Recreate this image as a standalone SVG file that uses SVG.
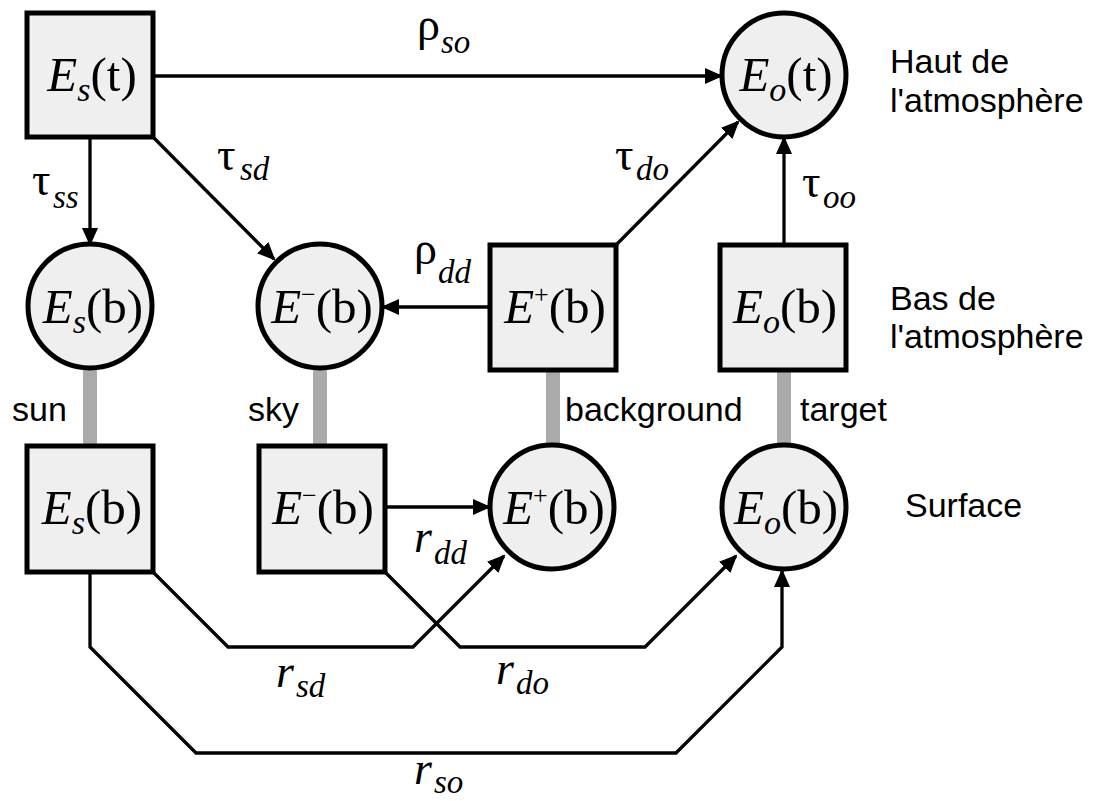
<svg xmlns="http://www.w3.org/2000/svg" width="1101" height="801" viewBox="0 0 1101 801">
<style>
.node{fill:#efefef;stroke:#000;stroke-width:5}
.t{font-family:"Liberation Serif","Times New Roman",serif;font-size:49px;fill:#000}
.it{font-style:italic}
.sb{font-size:34px;font-style:italic}
.sp{font-size:26px}
.g{font-family:"Liberation Serif","Times New Roman",serif;font-size:46px;fill:#000}
.gs{font-family:"Liberation Serif","Times New Roman",serif;font-size:33px;font-style:italic;fill:#000}
.r{font-family:"Liberation Serif","Times New Roman",serif;font-size:46px;font-style:italic;fill:#000}
.sans{font-family:"Liberation Sans",Arial,sans-serif;font-size:34px;fill:#000}
.arr{stroke:#000;stroke-width:3.3;fill:none;marker-end:url(#ah)}
.link{stroke:#aaa;stroke-width:14}
</style>
<defs>
<marker id="ah" viewBox="0 0 18 16" refX="16" refY="8" markerWidth="18" markerHeight="16" markerUnits="userSpaceOnUse" orient="auto">
<path d="M0,0 L18,8 L0,16 z" fill="#000"/>
</marker>
</defs>
<rect width="1101" height="801" fill="#fff"/>

<g id="links">
<line class="link" x1="90" y1="368" x2="90" y2="446"/>
<line class="link" x1="320" y1="368" x2="320" y2="446"/>
<line class="link" x1="553" y1="370" x2="553" y2="446"/>
<line class="link" x1="784" y1="370" x2="784" y2="446"/>
</g>

<g id="connectors">
<line class="arr" x1="153" y1="76" x2="721" y2="76"/>
<line class="arr" x1="90" y1="137" x2="90" y2="244"/>
<line class="arr" x1="153" y1="137" x2="274" y2="259"/>
<line class="arr" x1="616" y1="245" x2="738" y2="122"/>
<line class="arr" x1="784" y1="245" x2="784" y2="138"/>
<line class="arr" x1="490" y1="307" x2="383" y2="307"/>
<line class="arr" x1="385" y1="507" x2="489" y2="507"/>
<path class="arr" d="M153,572 L228,647 L413,647 L504,556"/>
<path class="arr" d="M385,572 L460,647 L645,647 L736,556"/>
<path class="arr" d="M90,572 L90,647 L196,753 L676,753 L782,647 L782,571"/>
</g>

<g id="connector-labels">
<text class="g" x="417" y="40">ρ<tspan class="gs" x="441" y="53">so</tspan></text>
<text class="g" x="32" y="195">τ<tspan class="gs" x="53" y="208">ss</tspan></text>
<text class="g" x="217" y="170">τ<tspan class="gs" x="240" y="180">sd</tspan></text>
<text class="g" x="615" y="170">τ<tspan class="gs" x="636" y="180">do</tspan></text>
<text class="g" x="802" y="197">τ<tspan class="gs" x="823" y="208">oo</tspan></text>
<text class="g" x="414" y="264">ρ<tspan class="gs" x="438" y="283">dd</tspan></text>
<text class="r" x="414" y="552">r<tspan class="gs" x="434" y="564">dd</tspan></text>
<text class="r" x="276" y="687">r<tspan class="gs" x="296" y="697">sd</tspan></text>
<text class="r" x="496" y="684">r<tspan class="gs" x="516" y="694">do</tspan></text>
<text class="r" x="414" y="784">r<tspan class="gs" x="434" y="793">so</tspan></text>
</g>

<g id="n-Es-t">
<rect class="node" x="27" y="13" width="126" height="124"/>
<text class="t" x="92" y="91" text-anchor="middle"><tspan class="it">E</tspan><tspan class="sb" dy="10">s</tspan><tspan dy="-10">(t)</tspan></text>
</g>
<g id="n-Eo-t">
<circle class="node" cx="784" cy="75" r="62"/>
<text class="t" x="786" y="91" text-anchor="middle"><tspan class="it">E</tspan><tspan class="sb" dy="10">o</tspan><tspan dy="-10">(t)</tspan></text>
</g>
<g id="n-Es-b-atm">
<circle class="node" cx="90" cy="306" r="62"/>
<text class="t" x="93" y="323" text-anchor="middle"><tspan class="it">E</tspan><tspan class="sb" dy="10">s</tspan><tspan dy="-10">(b)</tspan></text>
</g>
<g id="n-Em-b-atm">
<circle class="node" cx="320" cy="306" r="62"/>
<text class="t" x="322" y="323" text-anchor="middle"><tspan class="it">E</tspan><tspan class="sp" dy="-20">−</tspan><tspan dy="20">(b)</tspan></text>
</g>
<g id="n-Ep-b-atm">
<rect class="node" x="490" y="245" width="126" height="125"/>
<text class="t" x="555" y="323" text-anchor="middle"><tspan class="it">E</tspan><tspan class="sp" dy="-20">+</tspan><tspan dy="20">(b)</tspan></text>
</g>
<g id="n-Eo-b-atm">
<rect class="node" x="720" y="245" width="126" height="125"/>
<text class="t" x="785" y="323" text-anchor="middle"><tspan class="it">E</tspan><tspan class="sb" dy="10">o</tspan><tspan dy="-10">(b)</tspan></text>
</g>
<g id="n-Es-b-sfc">
<rect class="node" x="27" y="446" width="126" height="126"/>
<text class="t" x="92" y="524" text-anchor="middle"><tspan class="it">E</tspan><tspan class="sb" dy="10">s</tspan><tspan dy="-10">(b)</tspan></text>
</g>
<g id="n-Em-b-sfc">
<rect class="node" x="259" y="446" width="126" height="126"/>
<text class="t" x="323" y="524" text-anchor="middle"><tspan class="it">E</tspan><tspan class="sp" dy="-20">−</tspan><tspan dy="20">(b)</tspan></text>
</g>
<g id="n-Ep-b-sfc">
<circle class="node" cx="552" cy="507" r="62"/>
<text class="t" x="554" y="524" text-anchor="middle"><tspan class="it">E</tspan><tspan class="sp" dy="-20">+</tspan><tspan dy="20">(b)</tspan></text>
</g>
<g id="n-Eo-b-sfc">
<circle class="node" cx="784" cy="507" r="62"/>
<text class="t" x="786" y="524" text-anchor="middle"><tspan class="it">E</tspan><tspan class="sb" dy="10">o</tspan><tspan dy="-10">(b)</tspan></text>
</g>

<g id="side-labels">
<text class="sans" x="12" y="421">sun</text>
<text class="sans" x="248" y="421">sky</text>
<text class="sans" x="565" y="421">background</text>
<text class="sans" x="800" y="421">target</text>
<text class="sans" x="890" y="73">Haut de</text>
<text class="sans" x="890" y="112">l'atmosphère</text>
<text class="sans" x="890" y="310">Bas de</text>
<text class="sans" x="890" y="348">l'atmosphère</text>
<text class="sans" x="905" y="517">Surface</text>
</g>
</svg>
